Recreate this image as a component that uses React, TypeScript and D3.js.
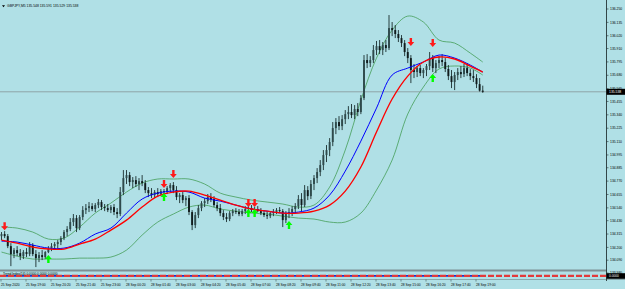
import React from "react";
import * as d3 from "d3";

const symbolName = "GBPJPY,M5";
const firstOpen = 134.297;
const closes = [
  134.315,134.297,134.211,134.143,134.177,134.151,134.125,134.160,134.143,134.220,
  134.143,134.108,134.134,134.117,134.160,134.186,134.211,134.229,134.246,134.280,
  134.332,134.358,134.418,134.452,134.366,134.461,134.521,134.538,134.555,134.530,
  134.564,134.590,134.547,134.538,134.521,134.547,134.504,134.487,134.676,134.796,
  134.822,134.762,134.779,134.745,134.770,134.753,134.693,134.667,134.650,134.676,
  134.659,134.684,134.676,134.710,134.736,134.693,134.633,134.650,134.607,134.624,
  134.504,134.392,134.478,134.538,134.581,134.598,134.633,134.616,134.564,134.538,
  134.495,134.461,134.444,134.495,134.512,134.504,134.487,134.512,134.530,134.538,
  134.521,134.530,134.512,134.495,134.478,134.469,134.495,134.504,134.521,134.512,
  134.435,134.487,134.504,134.530,134.555,134.616,134.564,134.693,134.641,134.745,
  134.796,134.848,134.908,134.994,135.037,135.106,135.226,135.278,135.243,135.303,
  135.346,135.364,135.338,135.390,135.364,135.484,135.811,135.785,135.811,135.897,
  135.931,135.897,135.940,135.914,136.086,136.069,136.035,136.000,135.957,135.880,
  135.828,135.725,135.708,135.742,135.699,135.725,135.759,135.828,135.742,135.785,
  135.811,135.794,135.734,135.673,135.622,135.682,135.708,135.690,135.742,135.699,
  135.673,135.656,135.604,135.548,135.538,
];
const highs = [
  134.332,134.340,134.315,134.237,134.194,134.211,134.186,134.177,134.194,134.246,
  134.237,134.177,134.160,134.177,134.168,134.211,134.237,134.246,134.263,134.297,
  134.349,134.383,134.452,134.487,134.478,134.478,134.555,134.573,134.590,134.581,
  134.581,134.616,134.607,134.573,134.573,134.564,134.573,134.538,134.719,134.865,
  134.865,134.848,134.805,134.813,134.796,134.822,134.779,134.719,134.710,134.693,
  134.710,134.702,134.702,134.727,134.753,134.762,134.727,134.667,134.676,134.641,
  134.650,134.521,134.504,134.564,134.598,134.624,134.659,134.667,134.641,134.590,
  134.573,134.521,134.495,134.512,134.530,134.538,134.530,134.530,134.555,134.555,
  134.564,134.547,134.555,134.538,134.521,134.512,134.504,134.530,134.538,134.547,
  134.530,134.512,134.538,134.555,134.581,134.650,134.667,134.736,134.727,134.779,
  134.822,134.882,134.951,135.037,135.080,135.140,135.278,135.312,135.329,135.338,
  135.381,135.415,135.433,135.424,135.441,135.510,135.854,135.862,135.845,135.940,
  135.975,135.983,135.966,135.983,136.198,136.138,136.112,136.069,136.026,135.983,
  135.914,135.854,135.777,135.759,135.768,135.742,135.777,135.880,135.854,135.811,
  135.845,135.862,135.828,135.768,135.725,135.708,135.742,135.759,135.777,135.785,
  135.733,135.725,135.690,135.656,135.591,
];
const lows = [
  134.263,134.280,134.194,134.039,134.108,134.125,134.091,134.100,134.117,134.125,
  134.125,134.031,134.074,134.091,134.100,134.151,134.168,134.186,134.194,134.220,
  134.263,134.297,134.340,134.384,134.332,134.349,134.435,134.487,134.504,134.512,
  134.504,134.538,134.521,134.512,134.504,134.495,134.478,134.452,134.469,134.650,
  134.745,134.727,134.710,134.719,134.693,134.727,134.667,134.633,134.624,134.624,
  134.633,134.641,134.650,134.659,134.676,134.667,134.607,134.581,134.581,134.555,
  134.478,134.349,134.366,134.452,134.512,134.547,134.573,134.590,134.547,134.512,
  134.469,134.435,134.418,134.426,134.469,134.487,134.469,134.469,134.487,134.504,
  134.504,134.495,134.504,134.478,134.461,134.444,134.452,134.469,134.487,134.495,
  134.375,134.409,134.452,134.469,134.495,134.530,134.512,134.547,134.607,134.616,
  134.693,134.753,134.813,134.865,134.934,134.985,135.071,135.174,135.209,135.209,
  135.261,135.303,135.312,135.303,135.329,135.346,135.467,135.742,135.751,135.785,
  135.854,135.862,135.854,135.880,135.897,136.017,136.000,135.966,135.923,135.845,
  135.785,135.613,135.656,135.665,135.673,135.656,135.673,135.725,135.708,135.699,
  135.742,135.759,135.708,135.639,135.570,135.553,135.639,135.656,135.665,135.673,
  135.639,135.622,135.570,135.540,135.529,
];

// indicator lines sampled at these bar indices
const lineIdx = [0,5,10,15,20,25,30,35,40,45,50,55,60,65,70,75,80,85,90,95,100,105,110,115,120,125,130,135,140,145,150,154];
const blueMA = [134.254,134.246,134.220,134.194,134.194,134.237,134.315,134.366,134.495,134.616,134.667,134.684,134.676,134.624,134.598,134.564,134.530,134.512,134.495,134.504,134.538,134.650,134.856,135.114,135.398,135.682,135.742,135.794,135.854,135.828,135.768,135.708];
const redMA = [134.263,134.237,134.203,134.186,134.186,134.229,134.272,134.349,134.435,134.547,134.641,134.676,134.684,134.650,134.607,134.564,134.530,134.512,134.495,134.495,134.512,134.564,134.684,134.891,135.192,135.476,135.673,135.794,135.837,135.820,135.759,135.708];
const upperBand = [134.375,134.366,134.332,134.272,134.280,134.375,134.495,134.581,134.676,134.753,134.788,134.788,134.788,134.745,134.667,134.633,134.607,134.590,134.573,134.547,134.564,134.719,135.037,135.467,135.828,136.069,136.189,136.138,135.983,135.957,135.871,135.794];
const lowerBand = [134.160,134.125,134.100,134.100,134.100,134.108,134.108,134.117,134.177,134.306,134.418,134.487,134.547,134.564,134.530,134.512,134.495,134.487,134.469,134.452,134.444,134.418,134.418,134.495,134.693,134.951,135.347,135.579,135.734,135.760,135.742,135.682];

const sellArrowIdx = [1, 52, 55, 79, 81, 131, 138];
const sellArrowPrice = [134.383, 134.745, 134.831, 134.581, 134.581, 135.966, 135.957];
const buyArrowIdx = [15, 52, 79, 81, 92, 138];
const buyArrowPrice = [134.100, 134.633, 134.495, 134.495, 134.392, 135.656];

const priceTicks = [136.250,136.135,136.020,135.910,135.795,135.680,135.565,135.455,135.340,135.225,135.110,134.995,134.885,134.770,134.655,134.540,134.430,134.315,134.200,134.090,133.980];
const timeLabels = ["25 Sep 2020","25 Sep 19:00","25 Sep 20:20","25 Sep 21:40","25 Sep 23:00","28 Sep 00:20","28 Sep 01:40","28 Sep 03:00","28 Sep 04:20","28 Sep 05:40","28 Sep 07:00","28 Sep 08:20","28 Sep 09:40","28 Sep 11:00","28 Sep 12:20","28 Sep 13:40","28 Sep 15:00","28 Sep 16:20","28 Sep 17:40","28 Sep 19:00"];
const barsPerLabel = 8;
const subWindowText = "Trend Index(14) 0.0000 0.0000 0.0000";

const W = 625, H = 289;
const FONT = "'Liberation Sans', Arial, sans-serif";

export default function App() {
  const n = closes.length;
  const opens = closes.map((c, i) => (i === 0 ? firstOpen : closes[i - 1]));
  const x = d3.scaleLinear().domain([0, n - 1]).range([1.5, 482.75]);
  const y = d3.scaleLinear().domain([133.98, 136.25]).range([273, 9]);
  const fmt = d3.format(".3f");
  const axisX = 606.5;

  const line = d3
    .line<[number, number]>()
    .x((d) => x(d[0]))
    .y((d) => y(d[1]))
    .curve(d3.curveCatmullRom.alpha(0.5));
  const mk = (vals: number[]) => line(lineIdx.map((i, k) => [i, vals[k]] as [number, number])) || "";

  const last = n - 1;
  const lastY = y(closes[last]);
  const header = `${symbolName} ${fmt(opens[last])} ${fmt(highs[last])} ${fmt(lows[last])} ${fmt(closes[last])}`;

  const downArrow = "M-1.2,-4 L1.2,-4 L1.2,0 L3.4,0 L0,4 L-3.4,0 L-1.2,0 Z";
  const upArrow = "M-1.2,4 L1.2,4 L1.2,0 L3.4,0 L0,-4 L-3.4,0 L-1.2,0 Z";

  return (
    <svg width={W} height={H} style={{ position: "fixed", left: 0, top: 0, display: "block" }} fontFamily={FONT}>
      <rect x={0} y={0} width={W} height={H} fill="#b0e0e6" />

      {/* bands */}
      <path d={mk(upperBand)} fill="none" stroke="#3d9a4f" strokeWidth={0.75} />
      <path d={mk(lowerBand)} fill="none" stroke="#3d9a4f" strokeWidth={0.75} />

      {/* current price line */}
      <line x1={0} x2={axisX} y1={lastY} y2={lastY} stroke="#8a9ea2" strokeWidth={0.9} />

      {/* candles */}
      {closes.map((c, i) => {
        const cx = x(i);
        const o = opens[i];
        const top = y(Math.max(o, c));
        const bot = y(Math.min(o, c));
        const bull = c >= o;
        return (
          <g key={i}>
            <line x1={cx} x2={cx} y1={y(highs[i])} y2={y(lows[i])} stroke="#1a2c2e" strokeWidth={0.9} />
            <rect x={cx - 0.95} y={top} width={1.9} height={Math.max(0.8, bot - top)} fill={bull ? "#2f4a4c" : "#111c1d"} />
          </g>
        );
      })}

      {/* moving averages */}
      <path d={mk(blueMA)} fill="none" stroke="#0000ff" strokeWidth={1.0} />
      <path d={mk(redMA)} fill="none" stroke="#ff0000" strokeWidth={1.35} />

      {/* arrows */}
      {sellArrowIdx.map((i, k) => (
        <path key={"s" + k} d={downArrow} transform={`translate(${x(i)},${y(sellArrowPrice[k])})`} fill="#ff1a1a" />
      ))}
      {buyArrowIdx.map((i, k) => (
        <path key={"b" + k} d={upArrow} transform={`translate(${x(i)},${y(buyArrowPrice[k])})`} fill="#00ff00" />
      ))}

      {/* header */}
      <path d="M2,5.2 L5,5.2 L3.5,7.2 Z" fill="#000" />
      <text x={7} y={7.3} fontSize={3.4} fill="#000">{header}</text>

      {/* separator between main and sub window */}
      <rect x={0} y={269.5} width={axisX} height={2} fill="#7d9094" />

      {/* sub window */}
      <line x1={0} x2={axisX} y1={275.8} y2={275.8} stroke="#e23a3a" strokeWidth={2.2} strokeDasharray="6,2" />
      <line x1={0} x2={x(last)} y1={275.8} y2={275.8} stroke="#2230c8" strokeWidth={1.8} strokeDasharray="2,6" strokeDashoffset={-6} />
      <text x={3} y={275} fontSize={3.2} fill="#000">{subWindowText}</text>
      <line x1={0} x2={W} y1={279.5} y2={279.5} stroke="#6f8285" strokeWidth={0.6} />

      {/* right price axis */}
      <line x1={axisX} x2={axisX} y1={0} y2={281} stroke="#243436" strokeWidth={0.9} />
      {priceTicks.map((p) => (
        <g key={p}>
          <line x1={axisX} x2={axisX + 2} y1={y(p)} y2={y(p)} stroke="#243436" strokeWidth={0.6} />
          <text x={610} y={y(p) + 1.2} fontSize={3.4} fill="#000">{fmt(p)}</text>
        </g>
      ))}
      <rect x={axisX} y={lastY - 3} width={W - axisX} height={6} fill="#000" />
      <text x={609} y={lastY + 1.2} fontSize={3.4} fill="#fff">{fmt(closes[last])}</text>
      <rect x={axisX} y={273.2} width={W - axisX} height={5.6} fill="#000" />
      <text x={609} y={277.2} fontSize={3.2} fill="#fff">0.0000</text>

      {/* time axis */}
      {timeLabels.map((t, k) => {
        const lx = x(k * barsPerLabel) - 0.5;
        return (
          <g key={t}>
            <line x1={lx} x2={lx} y1={279.5} y2={281.5} stroke="#243436" strokeWidth={0.5} />
            <text x={lx} y={285.8} fontSize={3.3} fill="#000">{t}</text>
          </g>
        );
      })}
    </svg>
  );
}
